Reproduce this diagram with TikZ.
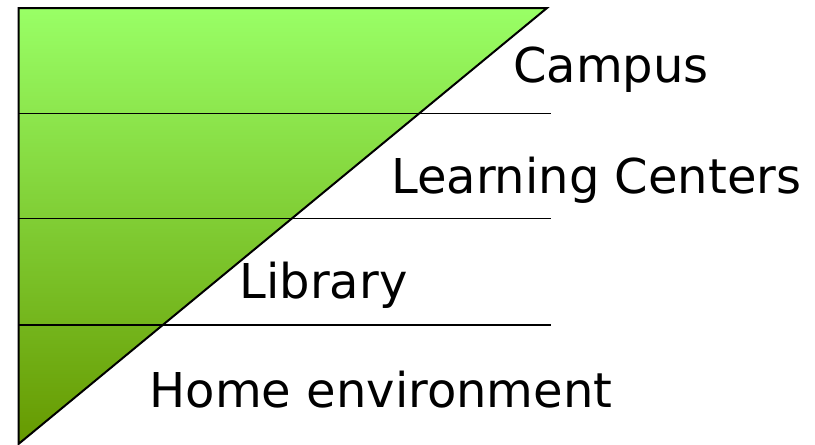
\documentclass[tikz,border=0pt]{standalone}
\usepackage{fontspec}
\setmainfont{DejaVu Sans}
\definecolor{topgreen}{HTML}{99FF66}
\definecolor{midgreen}{HTML}{88E050}
\definecolor{botgreen}{HTML}{669900}
\tikzset{
  lbl/.style={anchor=base west, inner sep=0pt, font=\fontsize{48}{50}\selectfont, text=black},
  sep/.style={draw=black, line width=1.8pt},
}
\begin{document}
\begin{tikzpicture}[x=1pt,y=-1pt]
\useasboundingbox (0,0) rectangle (815,445);
\coordinate (tl) at (18.5,8);
\coordinate (tr) at (547,8);
\coordinate (bl) at (18.5,444);
\shade[top color=topgreen, bottom color=botgreen] (tl) -- (tr) -- (bl) -- cycle;
\draw[line width=2pt, line join=miter] (tl) -- (tr) -- (bl) -- cycle;
\coordinate (a1) at (18.5,113.5); \coordinate (b1) at (550.5,113.5);
\coordinate (a2) at (18.5,218.5); \coordinate (b2) at (550.5,218.5);
\coordinate (a3) at (18.5,325); \coordinate (b3) at (550.5,325);
\draw[sep] (a1) -- (b1);
\draw[sep] (a2) -- (b2);
\draw[sep] (a3) -- (b3);
\node[lbl] (campus) at (513,82) {Campus};
\node[lbl] (learn) at (391,193) {Learning Centers};
\node[lbl] (lib) at (239.5,298) {Library};
\node[lbl] (home) at (149.5,407) {Home environment};
\end{tikzpicture}
\end{document}
